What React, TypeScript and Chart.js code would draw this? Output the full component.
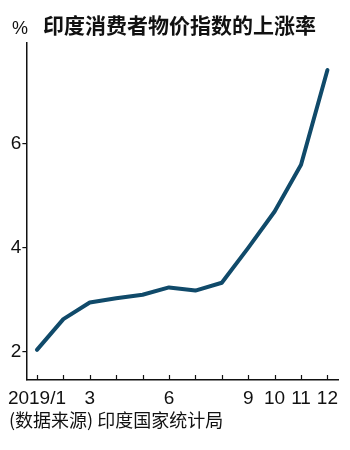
import React, { useEffect, useRef } from "react";
import { Chart, registerables } from "chart.js";

Chart.register(...registerables);

const months = [0, 1, 2, 3, 4, 5, 6, 7, 8, 9, 10, 11];
const tickLabels = ["2019/1", "", "3", "", "", "6", "", "", "9", "10", "11", "12"];
const cpi = [2.04, 2.63, 2.95, 3.03, 3.1, 3.24, 3.18, 3.33, 4.0, 4.7, 5.6, 7.42];
const yTicks = [2, 4, 6];

const SANS = "'Liberation Sans', Arial, sans-serif";
const CJK = "'Noto Sans CJK SC', sans-serif";

const innerTicks = {
  id: "innerTicks",
  afterDraw(chart: any) {
    const { ctx, scales, chartArea } = chart;
    const x = scales.x;
    ctx.save();
    ctx.strokeStyle = "#111";
    ctx.lineWidth = 1.2;
    months.forEach((m) => {
      const px = Math.round(x.getPixelForValue(m)) + 0.5;
      ctx.beginPath();
      ctx.moveTo(px, chartArea.bottom);
      ctx.lineTo(px, chartArea.bottom - 5);
      ctx.stroke();
    });
    ctx.restore();
  },
};

export default function App() {
  const ref = useRef<HTMLCanvasElement | null>(null);

  useEffect(() => {
    document.body.style.margin = "0";
    if (!ref.current) return;
    const chart = new Chart(ref.current, {
      type: "line",
      data: {
        datasets: [
          {
            data: months.map((m, i) => ({ x: m, y: cpi[i] })),
            borderColor: "#104a6a",
            borderWidth: 4,
            pointRadius: 0,
            tension: 0,
            borderCapStyle: "round",
            borderJoinStyle: "round",
          },
        ],
      },
      options: {
        animation: false,
        responsive: true,
        maintainAspectRatio: false,
        layout: { padding: { top: 43, right: 12, left: 0, bottom: 0 } },
        plugins: { legend: { display: false }, tooltip: { enabled: false } },
        scales: {
          x: {
            type: "linear",
            min: -0.4,
            max: 11.4,
            afterBuildTicks: (s: any) => {
              s.ticks = months.map((v) => ({ value: v }));
            },
            afterFit: (s: any) => {
              s.height = 70;
            },
            grid: { display: false, drawTicks: false },
            border: { display: true, color: "#111", width: 1.5 },
            ticks: {
              autoSkip: false,
              maxRotation: 0,
              padding: 7,
              color: "#111",
              font: { family: SANS, size: 19 },
              callback: (v: any) => tickLabels[Math.round(Number(v))] ?? "",
            },
          },
          y: {
            min: 1.46,
            max: 7.94,
            afterBuildTicks: (s: any) => {
              s.ticks = yTicks.map((v) => ({ value: v }));
            },
            afterFit: (s: any) => {
              s.width = 26;
            },
            grid: {
              display: true,
              drawOnChartArea: false,
              drawTicks: true,
              tickLength: 4,
              color: "#111",
              lineWidth: 1.2,
            },
            border: { display: true, color: "#111", width: 1.5 },
            ticks: {
              padding: 1,
              color: "#111",
              font: { family: SANS, size: 19 },
            },
          },
        },
      },
      plugins: [innerTicks],
    });
    return () => chart.destroy();
  }, []);

  return (
    <div style={{ position: "absolute", left: 0, top: 0, width: 350, height: 450, background: "#fff" }}>
      <canvas ref={ref} />
      <div
        style={{
          position: "absolute",
          left: 12,
          top: 19,
          fontFamily: SANS,
          fontSize: 18,
          lineHeight: 1,
          color: "#111",
        }}
      >
        %
      </div>
      <div
        style={{
          position: "absolute",
          left: 43,
          top: 14,
          fontFamily: CJK,
          fontWeight: 700,
          fontSize: 21,
          lineHeight: 1,
          color: "#111",
          whiteSpace: "nowrap",
        }}
      >
        印度消费者物价指数的上涨率
      </div>
      <div
        style={{
          position: "absolute",
          left: 9,
          top: 410,
          fontFamily: CJK,
          fontSize: 18,
          lineHeight: 1,
          color: "#111",
          whiteSpace: "nowrap",
        }}
      >
        (数据来源) 印度国家统计局
      </div>
    </div>
  );
}
